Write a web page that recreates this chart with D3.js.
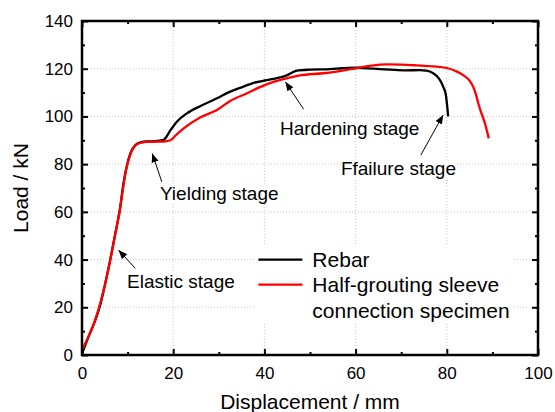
<!DOCTYPE html>
<html>
<head>
<meta charset="utf-8">
<script src="https://cdn.jsdelivr.net/npm/d3@7"></script>
<style>
  body { margin: 0; background: #fff; }
  svg { display: block; font-family: Arial, "Liberation Sans", sans-serif; }
</style>
</head>
<body>
<svg id="chart" width="555" height="412"></svg>
<script>
//  data: [displacement mm, load kN]
const rebar = [
  [0, 0.5], [1.4, 7.5], [2.9, 14.5], [4, 21], [5.1, 30], [6.2, 40], [7.2, 50],
  [8.3, 61], [9.1, 72], [9.8, 79], [10.6, 84.5], [11.7, 88], [13, 89.2],
  [14.3, 89.5], [16, 89.6], [17.9, 90.2], [19.5, 94.5], [20.8, 97.8],
  [23, 101.3], [26, 104.4], [29.6, 107.6], [32.5, 110.4], [35.4, 112.5],
  [37.5, 114], [40.5, 115.2], [43, 116.2], [44.9, 117.2], [46, 118.3],
  [47.1, 119.2], [50, 119.6], [54.4, 119.8], [57, 120.2], [60.3, 120.4],
  [64, 120], [67.6, 119.6], [71, 119.3], [74.1, 119.4], [75.5, 119.2],
  [77, 118.1], [78.3, 115.8], [79.2, 112.5], [79.8, 109], [80.1, 104], [80.3, 100]
];
const sleeve = [
  [0, 2], [1.4, 7.7], [2.9, 14.7], [4, 21.7], [5.1, 30], [6.2, 39.8],
  [7.2, 49.6], [8.3, 60.8], [9.1, 71], [9.6, 77], [10.6, 84], [11.7, 87.8],
  [13, 89], [14.3, 89.3], [16, 89.4], [18, 89.5], [19.4, 90], [20.5, 92],
  [22.3, 95], [25.9, 99.6], [29.6, 102.7], [32.5, 106.5], [36.2, 109.7],
  [39, 112.3], [42, 114.5], [44.9, 116], [47.8, 117.2], [52.9, 118.1],
  [56.5, 119], [60.3, 120.2], [63.5, 121.3], [66.8, 121.8], [70, 121.7],
  [73.4, 121.4], [77, 121], [80, 120.3], [82, 119], [83.6, 117.3], [85, 115],
  [85.8, 112.4], [86.5, 108.5], [86.9, 105.5], [87.6, 101.3], [88.3, 97.5], [89.2, 90.8]
];

const xTicks = [0, 20, 40, 60, 80, 100];
const yTicks = [0, 20, 40, 60, 80, 100, 120, 140];
const xMinor = [10, 30, 50, 70, 90];
const yMinor = [10, 30, 50, 70, 90, 110, 130];

//  stage labels: text position and arrow tail -> tip, in data units
const stages = [
  {text: "Elastic stage",   tx: 21.7, ty: 30.7, ax: 11.7, ay: 36.3, bx: 8.0,  by: 44.0},
  {text: "Yielding stage",  tx: 30.1, ty: 67.9, ax: 17.5, ay: 72.6, bx: 15.4, by: 84.5},
  {text: "Hardening stage", tx: 58.7, ty: 95.1, ax: 48.6, ay: 103,  bx: 44.6, by: 114.5},
  {text: "Ffailure stage",  tx: 69.4, ty: 78.4, ax: 74.3, ay: 83.8, bx: 79.2, by: 100.6}
];

const legendItems = [
  {name: ["Rebar"], color: "#000000"},
  {name: ["Half-grouting sleeve", "connection specimen"], color: "#ff0000"}
];

//  draw
const margin = ({top: 21, right: 17, bottom: 57, left: 82});
const svg = d3.select("#chart");
const w = +svg.attr("width");
const h = +svg.attr("height");

const x = d3.scaleLinear().domain([0, 100]).range([margin.left, w - margin.right]);
const y = d3.scaleLinear().domain([0, 140]).range([h - margin.bottom, margin.top]);

svg.append("defs").append("marker")
    .attr("id", "arrow")
    .attr("viewBox", "0 0 10 10")
    .attr("refX", 10).attr("refY", 5)
    .attr("markerWidth", 9).attr("markerHeight", 9)
    .attr("markerUnits", "userSpaceOnUse")
    .attr("orient", "auto")
  .append("path")
    .attr("d", "M0,1 L10,5 L0,9 Z")
    .attr("fill", "#000");

//  grid
const grid = svg.append("g")
    .attr("stroke", "#c8c8c8")
    .attr("stroke-width", 1)
    .attr("stroke-dasharray", "1,2");
grid.selectAll(".gx").data(xTicks.filter(d => d > 0 && d < 100)).join("line")
    .attr("x1", d => x(d)).attr("x2", d => x(d))
    .attr("y1", y(0)).attr("y2", y(140));
grid.selectAll(".gy").data(yTicks.filter(d => d > 0 && d < 140)).join("line")
    .attr("y1", d => y(d)).attr("y2", d => y(d))
    .attr("x1", x(0)).attr("x2", x(100));

//  curves
const line = d3.line()
    .x(d => x(d[0]))
    .y(d => y(d[1]))
    .curve(d3.curveMonotoneX);

svg.append("path")
    .datum(rebar)
    .attr("fill", "none")
    .attr("stroke", "#000")
    .attr("stroke-width", 2.3)
    .attr("d", line);

svg.append("path")
    .datum(sleeve)
    .attr("fill", "none")
    .attr("stroke", "#ff0000")
    .attr("stroke-width", 2.3)
    .attr("d", line);

//  stage labels
stages.forEach(s => {
  const g = svg.append("g");
  const bg = g.append("rect").attr("fill", "#fff");
  const t = g.append("text")
      .attr("x", x(s.tx)).attr("y", y(s.ty))
      .attr("dy", "0.35em")
      .attr("text-anchor", "middle")
      .attr("font-size", 19)
      .attr("fill", "#000")
      .text(s.text);
  const b = t.node().getBBox();
  bg.attr("x", b.x).attr("y", b.y + 2).attr("width", b.width).attr("height", b.height - 3);
  svg.append("line")
      .attr("x1", x(s.ax)).attr("y1", y(s.ay))
      .attr("x2", x(s.bx)).attr("y2", y(s.by))
      .attr("stroke", "#000")
      .attr("stroke-width", 1)
      .attr("marker-end", "url(#arrow)");
});

//  legend
const legend = svg.append("g").attr("transform", `translate(${x(37.8)},${y(45)})`);
legend.append("rect")
    .attr("x", 0).attr("y", -2)
    .attr("width", 258).attr("height", 77)
    .attr("fill", "#fff");
legendItems.forEach((d, i) => {
  const yy = 12 + i * 25;
  legend.append("line")
      .attr("x1", 4).attr("x2", 48)
      .attr("y1", yy).attr("y2", yy)
      .attr("stroke", d.color)
      .attr("stroke-width", 2.3);
  d.name.forEach((n, j) => {
    legend.append("text")
        .attr("x", 58).attr("y", yy + j * 26.5)
        .attr("dy", "0.35em")
        .attr("font-size", 21)
        .attr("fill", "#000")
        .text(n);
  });
});

//  axes frame with inward ticks
const axes = [
  {axis: d3.axisBottom(x), tr: `translate(0,${y(0)})`, labels: true, minor: d3.axisBottom(x)},
  {axis: d3.axisTop(x), tr: `translate(0,${y(140)})`, labels: false, minor: d3.axisTop(x)},
  {axis: d3.axisLeft(y), tr: `translate(${x(0)},0)`, labels: true, minor: d3.axisLeft(y)},
  {axis: d3.axisRight(y), tr: `translate(${x(100)},0)`, labels: false, minor: d3.axisRight(y)}
];
axes.forEach((a, i) => {
  const isX = i < 2;
  const g = svg.append("g").attr("transform", a.tr);
  g.call(a.minor.tickValues(isX ? xMinor : yMinor).tickSize(-3).tickFormat(""))
  g.selectAll(".tick line").attr("stroke", "#000").attr("stroke-width", 2);
  g.select(".domain").remove();
  const g2 = svg.append("g").attr("transform", a.tr);
  g2.call(a.axis.tickValues(isX ? xTicks : yTicks).tickSize(-6).tickPadding(isX ? 12 : 9)
      .tickFormat(a.labels ? d3.format("d") : ""));
  g2.selectAll(".tick line").attr("stroke", "#000").attr("stroke-width", 2);
  g2.selectAll(".tick text").attr("font-size", 17).attr("fill", "#000")
      .attr("font-family", "Arial, 'Liberation Sans', sans-serif");
  g2.select(".domain").remove();
});

svg.append("rect")
    .attr("x", x(0)).attr("y", y(140))
    .attr("width", x(100) - x(0)).attr("height", y(0) - y(140))
    .attr("fill", "none")
    .attr("stroke", "#000")
    .attr("stroke-width", 2.5);

//  axis titles
svg.append("text")
    .attr("x", (x(0) + x(100)) / 2).attr("y", h - 3)
    .attr("text-anchor", "middle")
    .attr("font-size", 21)
    .text("Displacement / mm");

svg.append("text")
    .attr("transform", `translate(28,${(y(0) + y(140)) / 2}) rotate(-90)`)
    .attr("text-anchor", "middle")
    .attr("font-size", 21)
    .text("Load / kN");
</script>
</body>
</html>
